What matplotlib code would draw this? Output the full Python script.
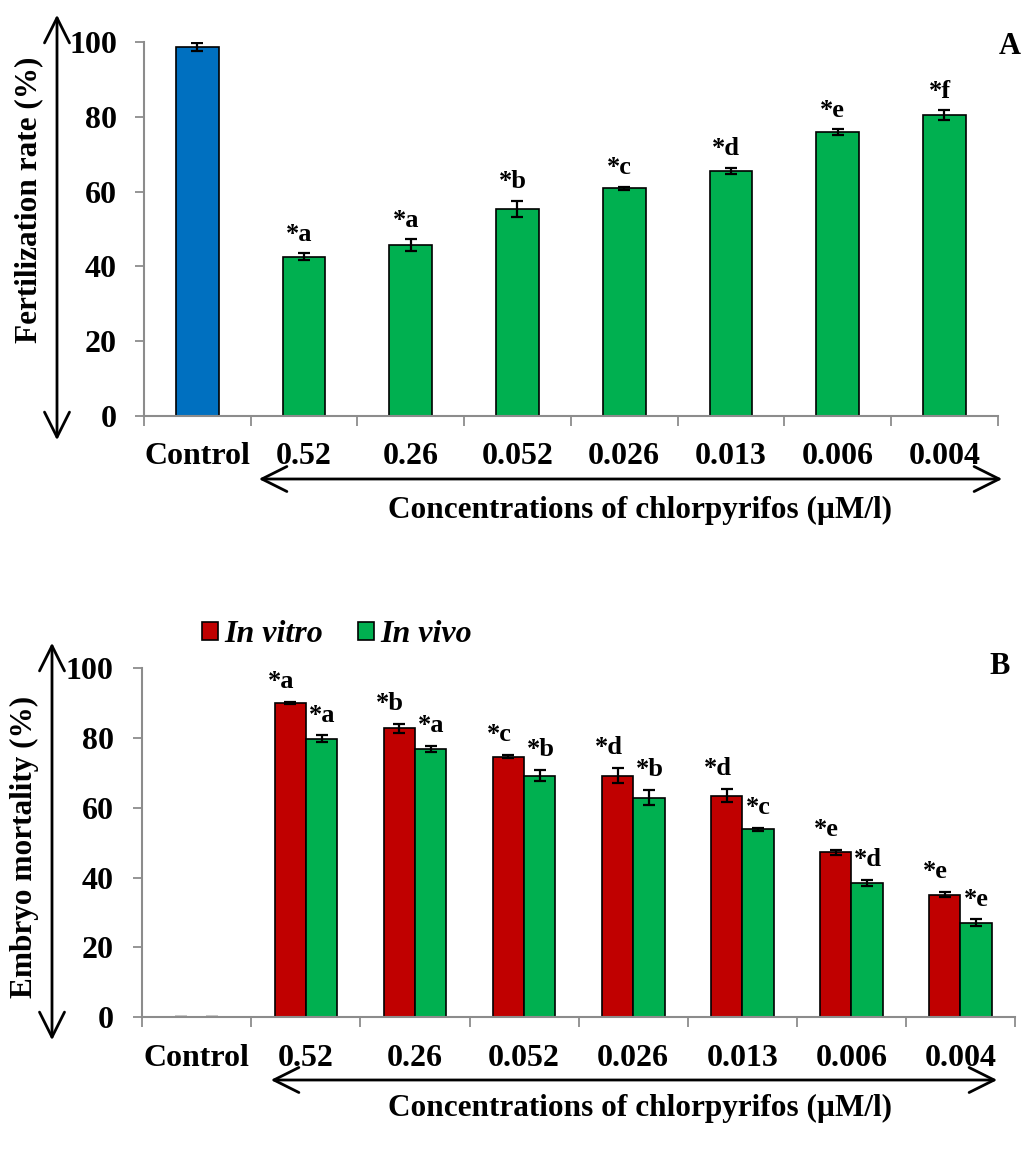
import matplotlib
matplotlib.use("Agg")
import matplotlib.pyplot as plt
import numpy as np
from matplotlib.patches import Patch, FancyArrowPatch

plt.rcParams["font.family"] = ["Liberation Serif", "DejaVu Serif"]
plt.rcParams["font.weight"] = "bold"

# ---- data ----
categories = ["Control", "0.52", "0.26", "0.052", "0.026", "0.013", "0.006", "0.004"]

fert_rate = [98.7, 42.6, 45.7, 55.4, 60.9, 65.6, 75.9, 80.4]
fert_err = [1.0, 0.9, 1.5, 2.1, 0.4, 0.8, 0.8, 1.3]
fert_letters = ["", "*a", "*a", "*b", "*c", "*d", "*e", "*f"]

mort_vitro = [0.2, 89.9, 82.7, 74.6, 69.2, 63.4, 47.2, 35.1]
mort_vitro_err = [0.0, 0.3, 1.2, 0.5, 2.2, 1.9, 0.7, 0.8]
mort_vitro_letters = ["", "*a", "*b", "*c", "*d", "*d", "*e", "*e"]

mort_vivo = [0.2, 79.7, 76.8, 69.2, 62.9, 53.8, 38.5, 27.1]
mort_vivo_err = [0.0, 1.0, 0.9, 1.5, 2.1, 0.4, 0.9, 0.9]
mort_vivo_letters = ["", "*a", "*a", "*b", "*b", "*c", "*d", "*e"]

xlabel = "Concentrations of chlorpyrifos (\u00b5M/l)"

# ---- style ----
BLUE = "#0070C0"
GREEN = "#00B050"
RED = "#C00000"
SPINE = "#8c8c8c"
TICK_FS = 23
LAB_FS = 22.5
LET_FS = 19

W, H = 1027, 1166
fig = plt.figure(figsize=(W / 100, H / 100), dpi=100)


def fx(px):
    return px / W


def fy(py):
    return 1 - py / H


def style_axes(ax, ypad):
    n = len(categories)
    ax.set_xlim(-0.5, n - 0.5)
    ax.set_ylim(0, 100)
    ax.set_yticks(np.arange(0, 101, 20))
    ax.set_xticks(np.arange(n))
    ax.set_xticklabels(categories, fontsize=TICK_FS, fontweight="bold")
    ax.set_xticks(np.arange(n + 1) - 0.5, minor=True)
    ax.tick_params(axis="x", which="major", length=0, pad=19)
    ax.tick_params(axis="x", which="minor", length=7, width=1.3, color=SPINE, direction="out")
    ax.tick_params(axis="y", length=6.5, width=1.3, color=SPINE, direction="out", pad=ypad,
                   labelsize=TICK_FS)
    for lab in ax.get_yticklabels():
        lab.set_fontweight("bold")
    for s in ("top", "right"):
        ax.spines[s].set_visible(False)
    for s in ("left", "bottom"):
        ax.spines[s].set_color(SPINE)
        ax.spines[s].set_linewidth(1.5)


def double_arrow(p0, p1):
    fig.add_artist(FancyArrowPatch(
        (fx(p0[0]), fy(p0[1])), (fx(p1[0]), fy(p1[1])),
        transform=fig.transFigure, arrowstyle="<->,head_length=0.9,head_width=0.45",
        mutation_scale=20, lw=2.0, color="black"))


ekw = dict(ecolor="black", elinewidth=1.6, capsize=4.5, capthick=1.6)
x = np.arange(len(categories))

# ---- panel A: fertilization rate ----
axA = fig.add_axes([fx(144), fy(416), fx(997.7) - fx(144), fy(42) - fy(416)])
colorsA = [BLUE] + [GREEN] * (len(categories) - 1)
axA.bar(x, fert_rate, width=0.40, color=colorsA, edgecolor="black", linewidth=1.2,
        yerr=fert_err, error_kw=ekw, zorder=2)
for xi, v, e, t in zip(x, fert_rate, fert_err, fert_letters):
    if t:
        axA.annotate(t, (xi, v + e), xytext=(-3.5, 9), textcoords="offset points",
                     ha="center", va="baseline", fontsize=LET_FS, fontweight="bold")
style_axes(axA, 13)
fig.text(fx(29), fy(200), "Fertilization rate (%)", rotation=90, ha="center", va="center",
         fontsize=LAB_FS, fontweight="bold")
fig.text(fx(1010), fy(46), "A", ha="center", va="center", fontsize=22, fontweight="bold")
fig.text(fx(640), fy(510), xlabel, ha="center", va="center", fontsize=LAB_FS, fontweight="bold")
double_arrow((57, 12), (57, 443))
double_arrow((256, 479), (1005, 479))

# ---- panel B: embryo mortality ----
axB = fig.add_axes([fx(142.3), fy(1017.3), fx(1015) - fx(142.3), fy(668) - fy(1017.3)])
bw = 0.287
axB.bar(x - bw / 2, mort_vitro, width=bw, color=RED, edgecolor="black", linewidth=1.2,
        yerr=mort_vitro_err, error_kw=ekw, zorder=2)
axB.bar(x + bw / 2, mort_vivo, width=bw, color=GREEN, edgecolor="black", linewidth=1.2,
        yerr=mort_vivo_err, error_kw=ekw, zorder=2)
for xi, v, e, t in zip(x, mort_vitro, mort_vitro_err, mort_vitro_letters):
    if t:
        axB.annotate(t, (xi - bw / 2, v + e), xytext=(-6.5, 10), textcoords="offset points",
                     ha="center", va="baseline", fontsize=LET_FS, fontweight="bold")
for xi, v, e, t in zip(x, mort_vivo, mort_vivo_err, mort_vivo_letters):
    if t:
        axB.annotate(t, (xi + bw / 2, v + e), xytext=(0.5, 10), textcoords="offset points",
                     ha="center", va="baseline", fontsize=LET_FS, fontweight="bold")
style_axes(axB, 14)
fig.text(fx(24), fy(847), "Embryo mortality (%)", rotation=90, ha="center", va="center",
         fontsize=LAB_FS, fontweight="bold")
fig.text(fx(1000), fy(667), "B", ha="center", va="center", fontsize=22, fontweight="bold")
fig.text(fx(640), fy(1108), xlabel, ha="center", va="center", fontsize=LAB_FS, fontweight="bold")
double_arrow((52, 640), (52, 1043))
double_arrow((268, 1080), (1000, 1080))

handles = [Patch(facecolor=RED, edgecolor="black", linewidth=1.2, label="In vitro"),
           Patch(facecolor=GREEN, edgecolor="black", linewidth=1.2, label="In vivo")]
fig.legend(handles=handles, loc="center", bbox_to_anchor=(fx(337), fy(635)), ncol=2,
           frameon=False, handlelength=0.5, handleheight=0.5, handletextpad=0.2,
           columnspacing=1.1, prop={"family": "Liberation Serif", "weight": "bold",
                                     "style": "italic", "size": 23})

fig.savefig("out.png", dpi=100)
